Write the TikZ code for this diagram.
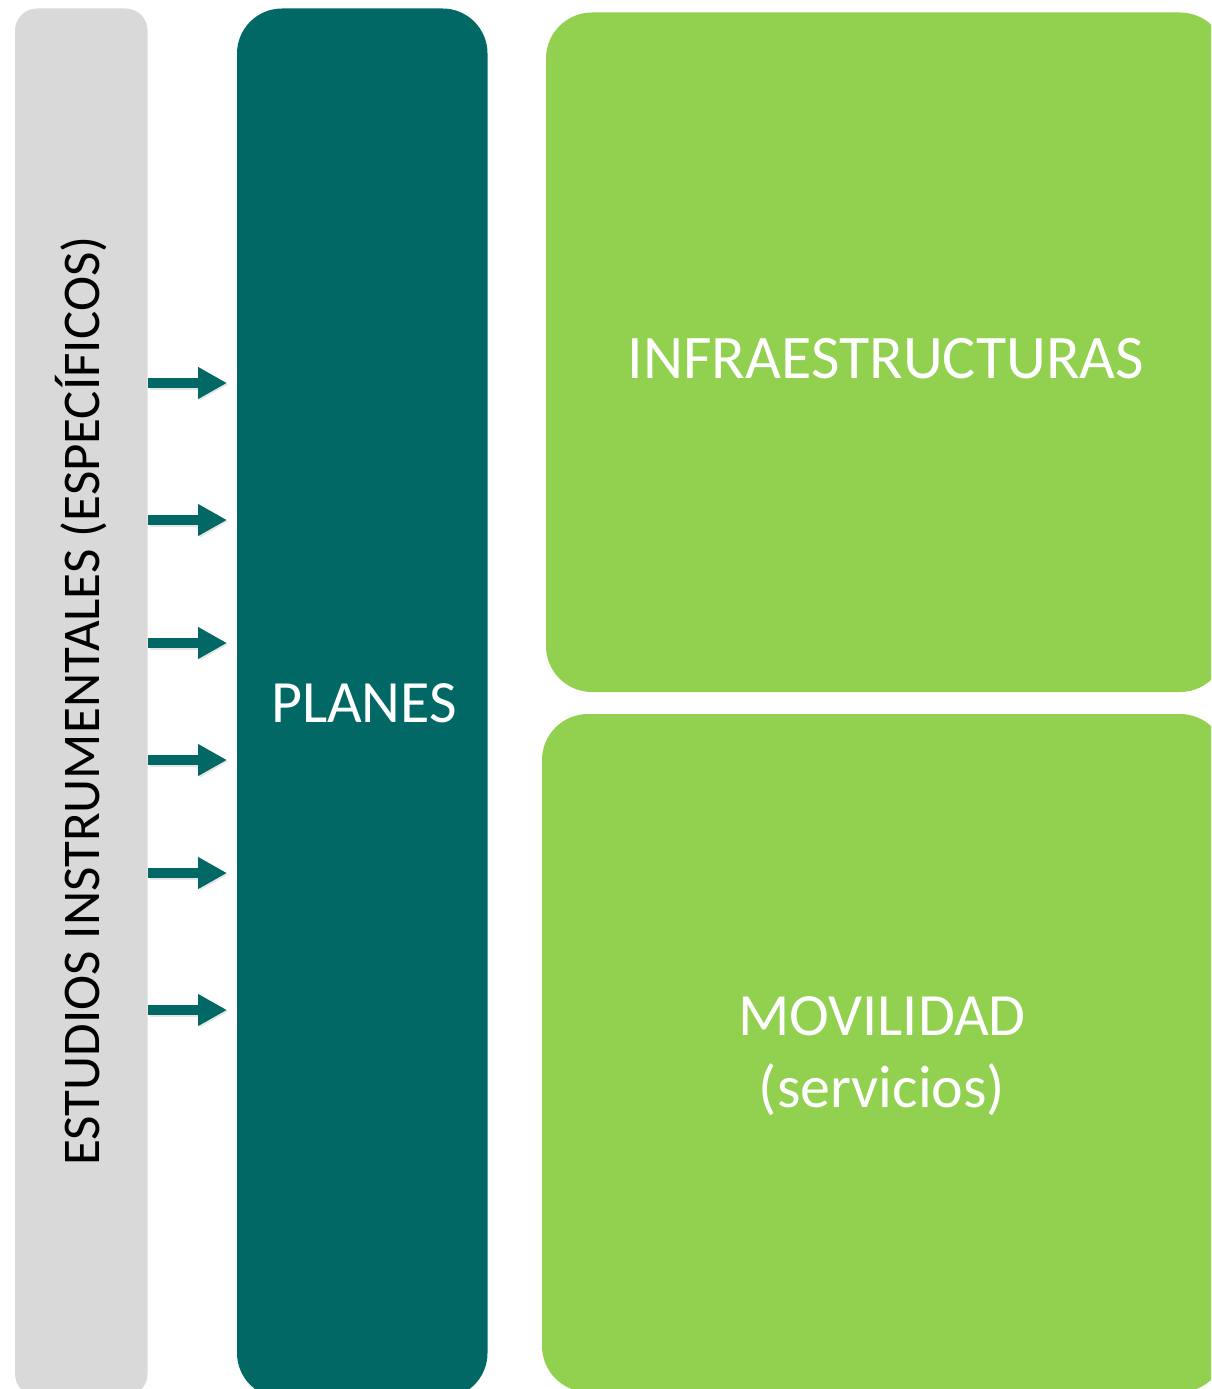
\documentclass[tikz,border=0pt]{standalone}
\usepackage{fontspec}
\setmainfont{Carlito}
\usetikzlibrary{arrows.meta,shadows}
\definecolor{greybar}{HTML}{D9D9D9}
\definecolor{tealbar}{HTML}{016865}
\definecolor{greenbox}{HTML}{92D050}
\begin{document}
\begin{tikzpicture}[x=1pt,y=-1pt,
  panel/.style={inner sep=0pt, outer sep=0pt},
  feed/.style={draw=tealbar, line width=10pt,
    -{Triangle[length=29pt,width=30pt]},
    preaction={draw=black!40, opacity=0.25, line width=10pt, transform canvas={xshift=1.5pt,yshift=-1.5pt},
      -{Triangle[length=29pt,width=30pt]}}},
  wtext/.style={text=white, font=\fontsize{60}{72}\selectfont, align=center, anchor=base}]
\useasboundingbox (0,0) rectangle (1211,1389);
\begin{scope}
\clip (0,0) rectangle (1211,1389);
% boxes
\fill[greybar, rounded corners=22pt] (15,8.5) rectangle (147.5,1396);
\fill[tealbar, rounded corners=45pt] (237,8.5) rectangle (487.5,1398);
\fill[greenbox, rounded corners=46pt] (546,12.5) rectangle (1226,692);
\fill[greenbox, rounded corners=46pt] (542,714) rectangle (1226,1392);
\end{scope}
% texts
\node[panel, rotate=90, anchor=base, font=\fontsize{53}{60}\selectfont] (estudios) at (99,701) {ESTUDIOS INSTRUMENTALES (ESPECÍFICOS)};
\node[wtext] (plan) at (364,722) {PLANES};
\node[wtext, font=\fontsize{62}{72}\selectfont] (infra) at (886,378) {INFRAESTRUCTURAS};
\node[wtext] (movil) at (882,1107) {MOVILIDAD\\(servicios)};
% arrows
\foreach \yy [count=\i] in {383,520,643,760,873,1010}{
  \coordinate (s\i) at (148,\yy);
  \coordinate (e\i) at (227,\yy);
  \draw[feed] (s\i) -- (e\i);
}
\end{tikzpicture}
\end{document}
